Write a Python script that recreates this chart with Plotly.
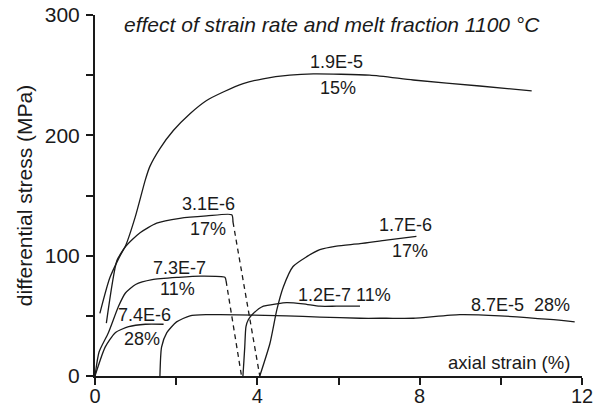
import plotly.graph_objects as go

# Stress-strain curves (axial strain in %, differential stress in MPa)
strain_19e5 = [0.28, 0.54, 0.75, 0.99, 1.24, 1.35, 1.60, 1.93, 2.34, 2.75, 3.16, 3.65, 4.14, 4.80, 5.38, 6.77, 7.84, 9.48, 10.76]
stress_19e5 = [44, 96, 108, 132, 163, 174, 189, 204, 218, 229, 236, 243, 247, 250, 251, 250, 246, 241, 237]

strain_31e6 = [0.12, 0.37, 0.74, 1.11, 1.52, 2.09, 2.75, 3.37, 3.40]
stress_31e6 = [52, 82, 107, 119, 127, 131, 133, 134, 128]
strain_31e6_unload = [3.40, 4.06]
stress_31e6_unload = [128, 0]

strain_73e7 = [0.0, 0.10, 0.33, 0.58, 0.75, 1.0, 1.41, 2.06, 2.60, 3.20, 3.23]
stress_73e7 = [0, 20, 36, 58, 69, 76, 80, 82, 83, 82, 79]
strain_73e7_unload = [3.23, 3.61]
stress_73e7_unload = [79, 0]

strain_74e6 = [0.0, 0.25, 0.50, 0.83, 1.24, 1.69]
stress_74e6 = [0, 24, 36, 41, 43, 43]

strain_87e5 = [1.60, 1.64, 1.77, 2.01, 2.34, 2.75, 3.08, 4.72, 5.54, 6.53, 7.18, 7.84, 8.99, 9.98, 11.21, 11.82]
stress_87e5 = [0, 24, 36, 45, 50, 51, 51, 50, 49, 48, 48, 48, 51, 50, 47, 45]

strain_12e7 = [3.645, 3.67, 3.69, 3.72, 3.78, 3.90, 4.15, 4.48, 4.72, 5.13, 5.54, 5.95, 6.53]
stress_12e7 = [0, 13, 24, 41, 47, 52, 58, 60, 61, 60, 58, 58, 58]

strain_17e6 = [4.06, 4.31, 4.48, 4.64, 4.88, 5.21, 5.54, 5.95, 6.53, 7.18, 7.92]
stress_17e6 = [0, 27, 55, 74, 91, 99, 105, 108, 110, 113, 116]

# Curve labels: text, x, y
label_text = ["1.9E-5", "15%", "3.1E-6", "17%", "7.3E-7", "11%", "7.4E-6", "28%",
              "1.7E-6", "17%", "1.2E-7 11%", "8.7E-5  28%"]
label_x = [5.95, 5.99, 2.79, 2.79, 2.09, 2.03, 1.23, 1.15, 7.64, 7.76, 6.15, 11.75]
label_y = [261, 239, 143, 122, 90, 72, 51, 31, 125.5, 104, 67, 59]
label_anchor = ["center"] * 10 + ["center", "right"]

font_family = "Liberation Sans, Arial, sans-serif"
ink = "#1a1a1a"

fig = go.Figure()

solid = dict(color=ink, width=1.3)
dashed = dict(color=ink, width=1.3, dash="5px,4px")

for xs, ys in [(strain_19e5, stress_19e5), (strain_31e6, stress_31e6),
               (strain_73e7, stress_73e7), (strain_74e6, stress_74e6),
               (strain_87e5, stress_87e5), (strain_12e7, stress_12e7),
               (strain_17e6, stress_17e6)]:
    fig.add_trace(go.Scatter(x=xs, y=ys, mode="lines",
                             line=dict(**solid, shape="spline", smoothing=0.6),
                             hoverinfo="skip", showlegend=False))

for xs, ys in [(strain_31e6_unload, stress_31e6_unload),
               (strain_73e7_unload, stress_73e7_unload)]:
    fig.add_trace(go.Scatter(x=xs, y=ys, mode="lines", line=dashed,
                             hoverinfo="skip", showlegend=False))

for t, x, y, a in zip(label_text, label_x, label_y, label_anchor):
    fig.add_annotation(x=x, y=y, text=t, showarrow=False, xanchor=a,
                       yanchor="middle", font=dict(size=18, color=ink, family=font_family))

fig.add_annotation(x=11.75, y=11, text="axial strain (%)", showarrow=False,
                   xanchor="right", yanchor="middle",
                   font=dict(size=18.5, color=ink, family=font_family))

fig.add_annotation(x=0.67, y=292, text="<i>effect of strain rate and melt fraction 1100 °C</i>",
                   showarrow=False, xanchor="left", yanchor="middle",
                   font=dict(size=21, color=ink, family=font_family))

axis_common = dict(showgrid=False, zeroline=False, showline=True, linecolor=ink,
                   linewidth=2, ticks="outside", ticklen=7, tickwidth=2,
                   tickcolor=ink, automargin=False)

fig.update_xaxes(range=[0, 12], tickvals=[0, 2, 4, 6, 8, 10, 12],
                 ticktext=["0", "", "4", "", "8", "", "12"],
                 ticklabelstandoff=-6,
                 tickfont=dict(size=20, color=ink, family=font_family),
                 **axis_common)
fig.update_yaxes(range=[0, 300], tickvals=[0, 50, 100, 150, 200, 250, 300],
                 ticktext=["0", "", "100", "", "200", "", "300"],
                 ticklabelstandoff=2,
                 tickfont=dict(size=21, color=ink, family=font_family),
                 title=dict(text="differential stress (MPa)", standoff=6,
                            font=dict(size=21, color=ink, family=font_family)),
                 **axis_common)

fig.update_layout(width=594, height=407, margin=dict(l=95, r=12, t=15, b=31),
                  plot_bgcolor="white", paper_bgcolor="white")

fig.write_html("out.html")
